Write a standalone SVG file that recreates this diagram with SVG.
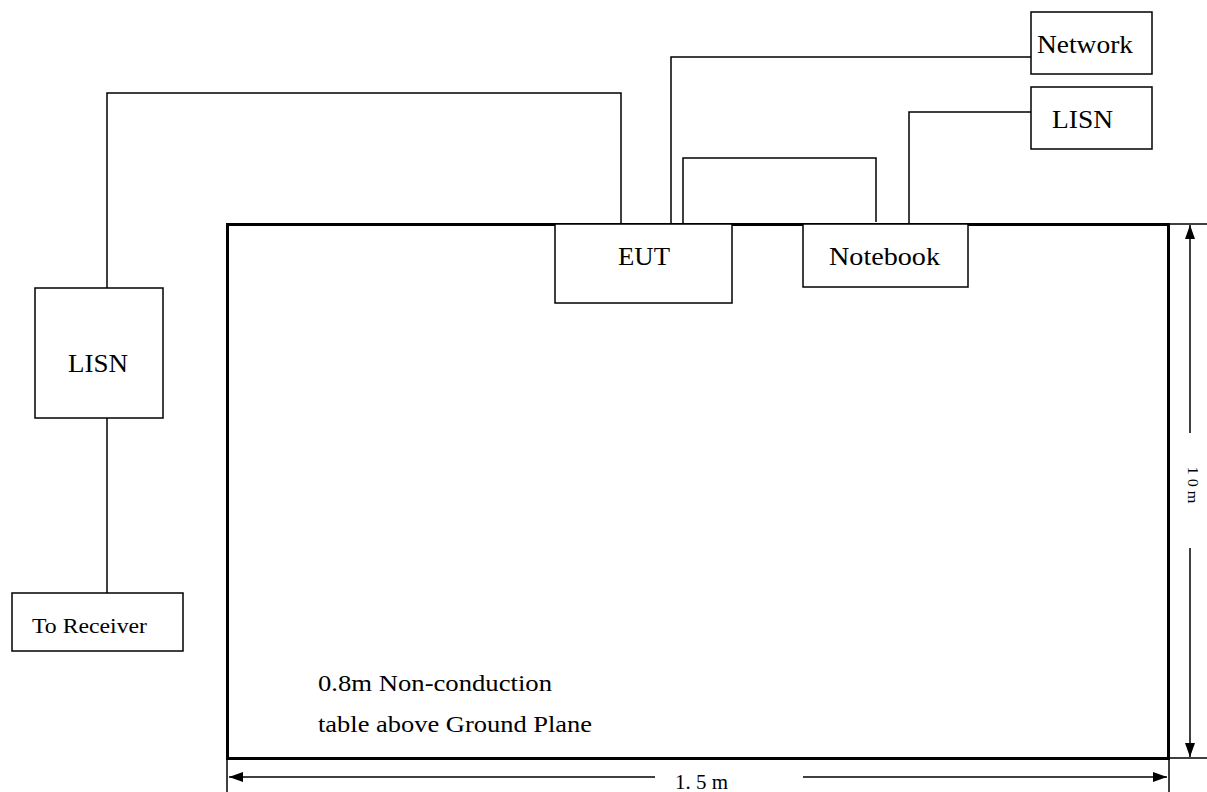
<svg xmlns="http://www.w3.org/2000/svg" width="1207" height="792" viewBox="0 0 1207 792">
<style>
.box{fill:#fff;stroke:#000;stroke-width:1.5}
.ln{fill:none;stroke:#000;stroke-width:1.5}
.t{font-family:"Liberation Serif","Times New Roman",serif;fill:#000}
</style>
<defs>
<marker id="ah" viewBox="0 0 14 10" refX="14" refY="5" markerWidth="14" markerHeight="10" markerUnits="userSpaceOnUse" orient="auto-start-reverse">
<path d="M0,0 L14,5 L0,10 Z" fill="#000"/>
</marker>
</defs>
<rect width="1207" height="792" fill="#fff"/>
<g id="table">
<rect x="227.5" y="224.5" width="941" height="534" fill="#fff" stroke="#000" stroke-width="3"/>
<text class="t" x="318" y="691" font-size="24" textLength="234" lengthAdjust="spacingAndGlyphs">0.8m Non-conduction</text>
<text class="t" x="318" y="732" font-size="24" textLength="274" lengthAdjust="spacingAndGlyphs">table above Ground Plane</text>
</g>
<g id="connectors">
<path class="ln" d="M621,224 V93 H107 V288"/>
<path class="ln" d="M107,418 V593"/>
<path class="ln" d="M671,226 V57 H1031"/>
<path class="ln" d="M683,224 V158 H876 V222"/>
<path class="ln" d="M909,224 V112 H1031"/>
</g>
<g id="dimensions">
<line class="ln" x1="1168" y1="224" x2="1207" y2="224" stroke-width="1"/>
<line class="ln" x1="1168" y1="758" x2="1207" y2="758" stroke-width="1"/>
<line class="ln" x1="227" y1="758" x2="227" y2="792" stroke-width="1"/>
<line class="ln" x1="1169" y1="758" x2="1169" y2="792" stroke-width="1"/>
<line class="ln" x1="1190" y1="433" x2="1190" y2="225" marker-end="url(#ah)"/>
<line class="ln" x1="1190" y1="548" x2="1190" y2="757" marker-end="url(#ah)"/>
<text class="t" font-size="15" text-anchor="middle" transform="translate(1188,485) rotate(90)" textLength="37" lengthAdjust="spacingAndGlyphs">1 0 m</text>
<line class="ln" x1="655" y1="777" x2="229" y2="777" marker-end="url(#ah)"/>
<line class="ln" x1="803" y1="777" x2="1167" y2="777" marker-end="url(#ah)"/>
<text class="t" x="675" y="789" font-size="20" textLength="53" lengthAdjust="spacingAndGlyphs">1. 5 m</text>
</g>
<g id="eut">
<rect class="box" x="555" y="224" width="177" height="79"/>
<text class="t" x="618" y="265" font-size="25" textLength="52" lengthAdjust="spacingAndGlyphs">EUT</text>
</g>
<g id="notebook">
<rect class="box" x="803" y="224" width="165" height="63"/>
<text class="t" x="829" y="265" font-size="25" textLength="111" lengthAdjust="spacingAndGlyphs">Notebook</text>
</g>
<g id="lisn-left">
<rect class="box" x="35" y="288" width="128" height="130"/>
<text class="t" x="68" y="372" font-size="25" textLength="60" lengthAdjust="spacingAndGlyphs">LISN</text>
</g>
<g id="receiver">
<rect class="box" x="12" y="593" width="171" height="58"/>
<text class="t" x="32" y="633" font-size="22" textLength="115" lengthAdjust="spacingAndGlyphs">To Receiver</text>
</g>
<g id="network">
<rect class="box" x="1031" y="12" width="121" height="62"/>
<text class="t" x="1037" y="53" font-size="25" textLength="96" lengthAdjust="spacingAndGlyphs">Network</text>
</g>
<g id="lisn-right">
<rect class="box" x="1031" y="87" width="121" height="62"/>
<text class="t" x="1052" y="128" font-size="25" textLength="61" lengthAdjust="spacingAndGlyphs">LISN</text>
</g>
</svg>
